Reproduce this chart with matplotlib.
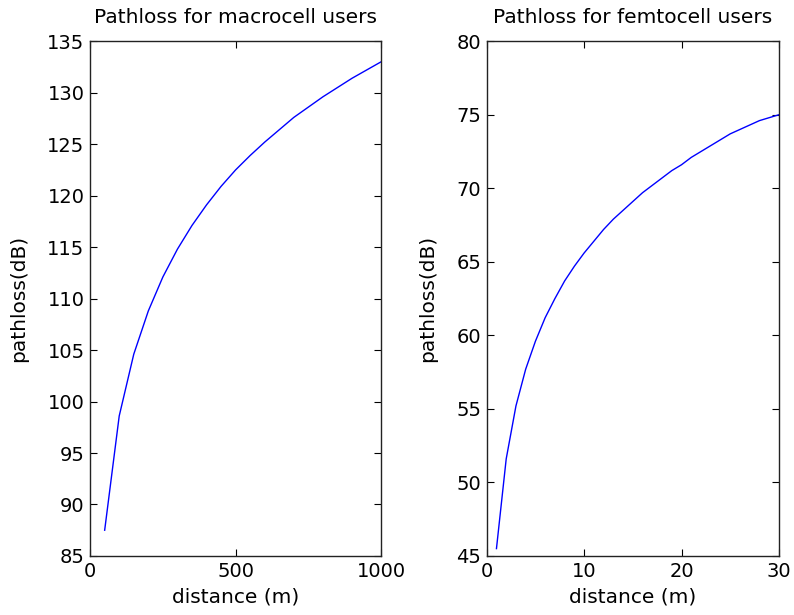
import matplotlib
matplotlib.use("Agg")
import matplotlib.pyplot as plt

# Macrocell users: distance (m) and pathloss (dB)
macro_distance = [50, 100, 150, 200, 250, 300, 350, 400, 450, 500,
                  550, 600, 650, 700, 750, 800, 850, 900, 950, 1000]
macro_pathloss = [87.5, 98.6, 104.6, 108.8, 112.1, 114.8, 117.1, 119.1, 120.9, 122.5,
                  123.9, 125.2, 126.4, 127.6, 128.6, 129.6, 130.5, 131.4, 132.2, 133.0]

# Femtocell users: distance (m) and pathloss (dB)
femto_distance = list(range(1, 31))
femto_pathloss = [45.5, 51.6, 55.2, 57.7, 59.6, 61.2, 62.5, 63.7, 64.7, 65.6,
                  66.4, 67.2, 67.9, 68.5, 69.1, 69.7, 70.2, 70.7, 71.2, 71.6,
                  72.1, 72.5, 72.9, 73.3, 73.7, 74.0, 74.3, 74.6, 74.8, 75.0]

macro_xticks = [0, 500, 1000]
femto_xticks = [0, 10, 20, 30]

plt.rcParams["font.family"] = ["DejaVu Sans"]

fig = plt.figure(figsize=(7.94, 6.15), dpi=100)
ax1 = fig.add_axes([0.1135, 0.096, 0.3665, 0.837])
ax2 = fig.add_axes([0.613, 0.096, 0.368, 0.837])

panels = [
    (ax1, macro_distance, macro_pathloss, "Pathloss for macrocell users",
     (0, 1000), macro_xticks, (85, 135), range(85, 136, 5)),
    (ax2, femto_distance, femto_pathloss, "Pathloss for femtocell users",
     (0, 30), femto_xticks, (45, 80), range(45, 81, 5)),
]

for ax, x, y, title, xlim, xticks, ylim, yticks in panels:
    ax.plot(x, y, color="#0000ff", lw=1.0)
    ax.set_xlim(*xlim)
    ax.set_ylim(*ylim)
    ax.set_xticks(xticks)
    ax.set_yticks(list(yticks))
    ax.set_title(title, fontsize=14.5, pad=13)
    ax.set_xlabel("distance (m)", fontsize=14.5, labelpad=5)
    ax.set_ylabel("pathloss(dB)", fontsize=14.5, labelpad=14)
    ax.tick_params(direction="in", length=5, width=0.8, top=True, right=True,
                   labelsize=14, pad=4, colors="black")
    for s in ax.spines.values():
        s.set_linewidth(1.0)
        s.set_color("#222222")

fig.savefig("out.png", dpi=100)
